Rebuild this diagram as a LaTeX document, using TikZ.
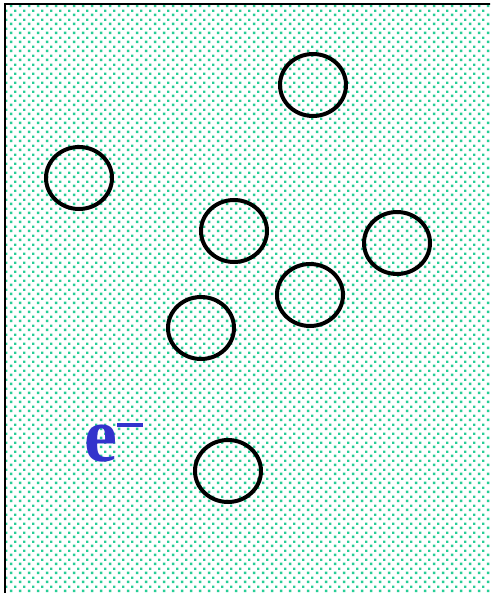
\documentclass[tikz,border=0pt]{standalone}
\usepackage{fontspec}
\setmainfont{Liberation Serif}
\usetikzlibrary{patterns,shapes.geometric}
\definecolor{dotcol}{RGB}{40,205,150}
\definecolor{eblue}{RGB}{51,51,204}
\pgfdeclarepatternformonly{tdots}{\pgfpointorigin}{\pgfpoint{8.6pt}{8.6pt}}{\pgfpoint{8.6pt}{8.6pt}}{%
  \pgfpathrectangle{\pgfpoint{1.0pt}{1.0pt}}{\pgfpoint{2.5pt}{2.5pt}}%
  \pgfpathrectangle{\pgfpoint{5.3pt}{5.3pt}}{\pgfpoint{2.5pt}{2.5pt}}%
  \pgfusepath{fill}}
\tikzset{
  particle/.style={draw=black, line width=4pt, ellipse, minimum width=66pt, minimum height=62pt, inner sep=0pt},
}
\begin{document}
\begin{tikzpicture}[x=1pt,y=-1pt]
\useasboundingbox (0,0) rectangle (490,593);
\fill[white] (0,0) rectangle (490,593);
\begin{scope}
\clip (0,0) rectangle (490,593);
\fill[pattern=tdots, pattern color=dotcol] (5,4) rectangle (495,598);
\draw[line width=2.2pt] (5,598) -- (5,4) -- (495,4);
\end{scope}
\node[particle] (p1) at (313,85) {};
\node[particle] (p2) at (79,178) {};
\node[particle] (p3) at (234,231) {};
\node[particle] (p4) at (397,243) {};
\node[particle] (p5) at (310,295) {};
\node[particle] (p6) at (201,328) {};
\node[particle] (p7) at (228,471) {};
\node[text=eblue, font=\fontsize{72}{72}\selectfont\bfseries, inner sep=0pt, anchor=base west] (e) at (84,461) {\scalebox{1.03}[1.08]{e}};
\node[fill=eblue, minimum width=26pt, minimum height=3.8pt, inner sep=0pt, anchor=north west] (minus) at (117,422.5) {};
\end{tikzpicture}
\end{document}
